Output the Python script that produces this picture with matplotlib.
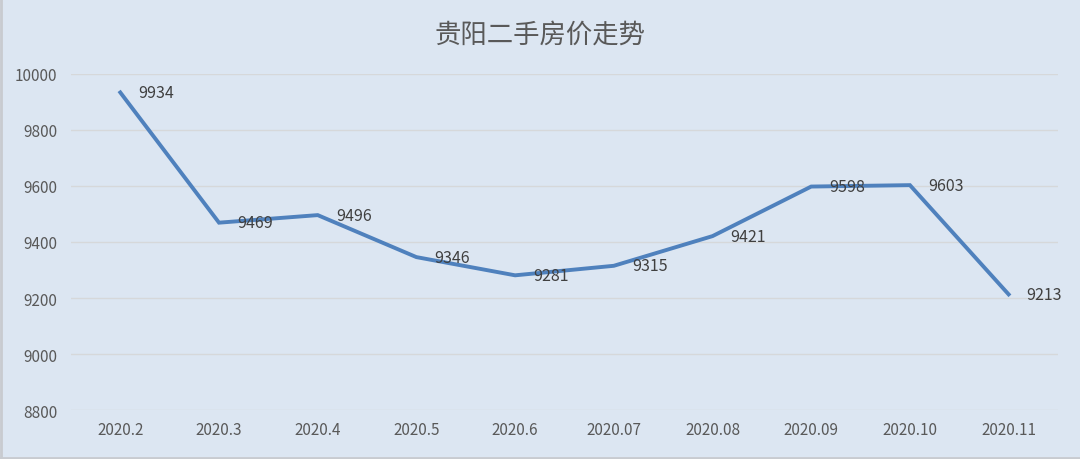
import matplotlib.pyplot as plt

plt.rcParams["font.family"] = ["Noto Sans CJK SC", "DejaVu Sans"]

months = ["2020.2", "2020.3", "2020.4", "2020.5", "2020.6",
          "2020.07", "2020.08", "2020.09", "2020.10", "2020.11"]
prices = [9934, 9469, 9496, 9346, 9281, 9315, 9421, 9598, 9603, 9213]

bg = "#dce6f2"
fig = plt.figure(figsize=(10.8, 4.6), dpi=100, facecolor=bg)
ax = fig.add_axes([0.0657, 0.1065, 0.9139, 0.7305], facecolor=bg)

x = list(range(len(months)))
ax.plot(x, prices, color="#4f81bd", linewidth=2.8, solid_joinstyle="miter")

for xi, v in zip(x, prices):
    ax.annotate(str(v), (xi, v), xytext=(13, 0), textcoords="offset points",
                va="center", ha="left", fontsize=11.5, color="#404040")

ax.set_xlim(-0.5, len(months) - 0.5)
ax.set_ylim(8800, 10000)
ax.set_yticks(range(8800, 10001, 200))
ax.set_xticks(x)
ax.set_xticklabels(months)
ax.tick_params(length=0, labelsize=11, labelcolor="#595959", pad=8)
ax.tick_params(axis="y", pad=10)
ax.grid(axis="y", color="#d6d8da", linewidth=1)
ax.set_axisbelow(True)
for s in ax.spines.values():
    s.set_visible(False)

fig.text(0.5, 0.924, "贵阳二手房价走势", ha="center", va="center",
         fontsize=19, color="#595959")

# thin grey frame on the left and bottom like the original screenshot
fig.add_artist(plt.Line2D([0.001, 0.001], [0, 1], color="#c8cbd0", linewidth=2))
fig.add_artist(plt.Line2D([0, 1], [0.002, 0.002], color="#c8cbd0", linewidth=2))

fig.savefig("out.png", dpi=100, facecolor=bg)
